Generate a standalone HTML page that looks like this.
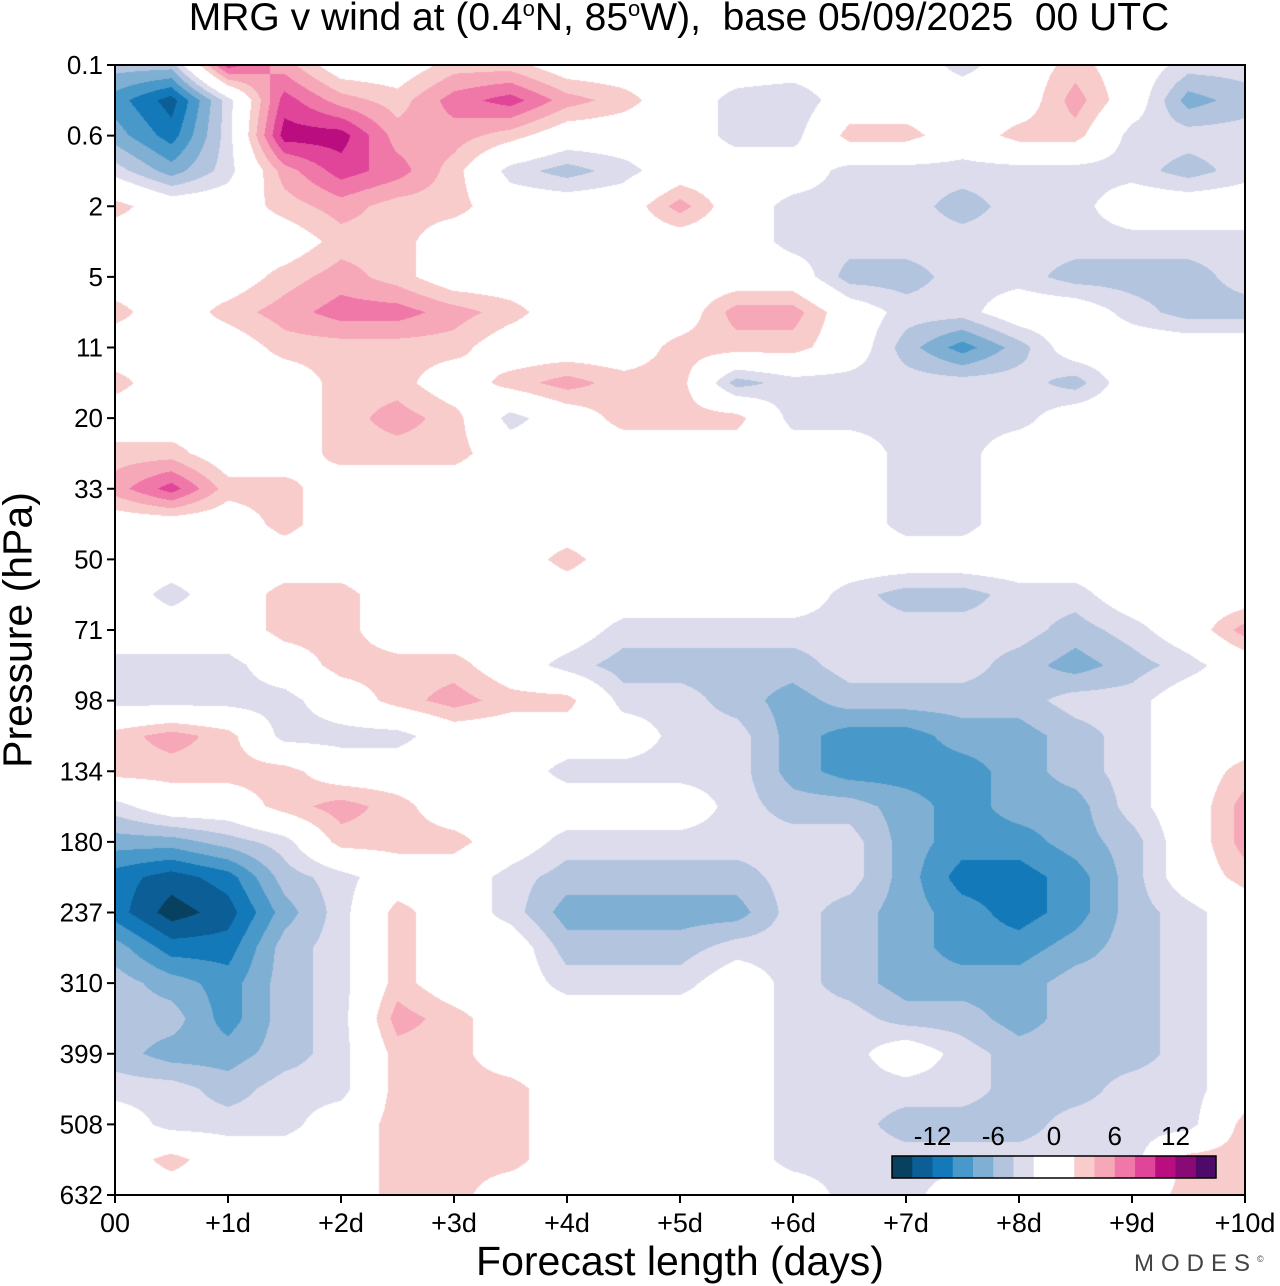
<!DOCTYPE html>
<html><head><meta charset="utf-8">
<style>
html,body{margin:0;padding:0;background:#fff;}
body{width:1280px;height:1286px;position:relative;overflow:hidden;font-family:"Liberation Sans",sans-serif;}
.t{position:absolute;white-space:nowrap;color:#000;}
</style></head>
<body>
<div class="t" style="left:679px;transform:translateX(-50%);top:-4px;font-size:39px;">MRG v wind at (0.4<sup style="font-size:22px">o</sup>N, 85<sup style="font-size:22px">o</sup>W),&nbsp; base 05/09/2025&nbsp; 00 UTC</div>
<canvas id="cv" width="1130" height="1130" style="position:absolute;left:115px;top:65px;"></canvas>
<svg id="ax" width="1280" height="1286" style="position:absolute;left:0;top:0;"></svg>
<div class="t" style="left:18px;top:630px;font-size:41px;transform:translate(-50%,-50%) rotate(-90deg);">Pressure (hPa)</div>
<div class="t" style="left:680px;top:1238px;font-size:41px;transform:translateX(-50%);">Forecast length (days)</div>
<div class="t" style="left:1134px;top:1250px;font-size:24px;letter-spacing:7px;color:#444;">MODES<sup style="font-size:9px;letter-spacing:0">©</sup></div>
<script>
const days=[0,0.5,1,1.5,2,2.5,3,3.5,4,4.5,5,5.5,6,6.5,7,7.5,8,8.5,9,9.5,10];
const xTickLabels=["00","+1d","+2d","+3d","+4d","+5d","+6d","+7d","+8d","+9d","+10d"];
const yTickLabels=["0.1","0.6","2","5","11","20","33","50","71","98","134","180","237","310","399","508","632"];
const levels=[-16,-14,-12,-10,-8,-6,-4,-2,2,4,6,8,10,12,14,16];
const colors=["#08405f","#0b5f96","#1479b9","#4899c9","#80afd4","#b3c4df","#dcdcec","#ffffff","#f9cccc","#f7a8b8","#f078a8","#e0459a","#b90d80","#8a0a75","#4e0a69"];
const cbLabels=[-12,-6,0,6,12];
const vwind=[
[-5,-5,9,5,0,0,3,3,0,0,0,0,0,0,0,-3,0,3,0,-3,-3],
[-9,-13,-3,9,5,3,7,9,5,3,0,-3,-4,0,0,0,0,5,0,-7,-5],
[-7,-11,-3,11,11,5,5,3,0,0,0,-3,-3,3,3,0,3,3,-3,-3,-3],
[-3,-7,-3,5,9,7,3,-3,-5,-3,0,0,0,-3,-3,-3,-3,-3,-3,-5,-3],
[3,0,0,3,5,3,3,0,0,0,5,0,-3,-3,-3,-5,-3,-3,0,0,0],
[0,0,0,0,3,3,0,0,0,0,0,0,-3,-3,-3,-3,-3,-3,-3,-3,-3],
[0,0,0,3,5,3,0,0,0,0,0,0,0,-5,-5,-3,-3,-5,-5,-5,-3],
[3,0,3,5,7,7,5,3,0,0,0,5,5,0,-3,-3,0,0,-3,-5,-5],
[0,0,0,3,3,3,3,0,0,0,3,3,3,0,-5,-9,-5,0,0,0,0],
[3,0,0,0,3,3,0,3,5,3,3,-5,-3,-3,-3,-3,-3,-5,0,0,0],
[0,0,0,0,3,5,3,-3,0,3,3,3,-3,-3,-3,-3,-3,0,0,0,0],
[3,3,0,0,3,3,3,0,0,0,0,0,0,0,-3,-3,0,0,0,0,0],
[5,9,3,3,0,0,0,0,0,0,0,0,0,0,-3,-3,0,0,0,0,0],
[0,0,0,3,0,0,0,0,0,0,0,0,0,0,-3,-3,0,0,0,0,0],
[0,0,0,0,0,0,0,0,3,0,0,0,0,0,0,0,0,0,0,0,0],
[0,-3,0,3,3,0,0,0,0,0,0,0,0,-3,-5,-5,-3,-3,0,0,0],
[0,0,0,3,3,0,0,0,0,-3,-3,-3,-3,-3,-3,-3,-3,-5,-3,0,5],
[-3,-3,-3,0,3,3,3,0,-3,-5,-5,-5,-5,-3,-3,-3,-5,-7,-5,-3,0],
[-3,-3,-3,-3,0,3,5,3,3,-3,-3,-5,-7,-5,-5,-5,-5,-3,-3,0,0],
[3,5,3,-3,-3,-3,0,0,0,0,-3,-3,-7,-9,-9,-7,-7,-5,-3,0,0],
[3,3,3,3,0,0,0,0,-3,-3,-3,-3,-7,-9,-9,-9,-7,-5,-3,0,3],
[-3,0,0,3,5,3,0,0,0,0,0,-3,-5,-5,-7,-9,-7,-7,-3,0,5],
[-7,-7,-5,-3,3,3,3,0,-3,-3,-3,-3,-3,-3,-7,-9,-9,-7,-5,0,5],
[-11,-13,-11,-5,-3,0,0,-3,-5,-5,-5,-5,-3,-3,-7,-11,-11,-9,-5,0,3],
[-11,-15,-13,-7,-3,3,0,-3,-7,-7,-7,-7,-3,-5,-7,-9,-11,-9,-5,-3,0],
[-7,-11,-11,-5,-3,3,0,0,-5,-5,-5,-3,-3,-5,-7,-9,-9,-7,-5,-3,0],
[-5,-7,-9,-5,-3,3,0,0,-3,-3,-3,0,-3,-5,-7,-7,-7,-5,-5,-3,0],
[-5,-5,-9,-5,-3,5,3,0,0,0,0,0,-3,-3,-5,-5,-7,-5,-5,-3,0],
[-5,-7,-7,-5,-3,3,3,0,0,0,0,0,-3,-3,0,-3,-5,-5,-5,-3,0],
[-3,-3,-5,-3,-3,3,3,3,0,0,0,0,-3,-3,-3,-3,-5,-5,-3,-3,0],
[0,-3,-3,-3,0,3,3,3,0,0,0,0,-3,-3,-5,-5,-5,-3,-3,-3,3],
[0,3,0,0,0,3,3,3,0,0,0,0,-3,-3,-3,-3,-3,-3,-3,3,3],
[0,0,0,0,0,3,3,0,0,0,0,0,0,-3,-3,0,0,0,0,3,3]
];
const X0=115,X1=1245,Y0=65,Y1=1195;
const xs=d=>X0+(X1-X0)*d/10;
const ys=r=>Y0+(Y1-Y0)*r/(vwind.length-1);
function colorFor(v){for(let i=0;i<levels.length-1;i++){if(v<levels[i+1])return colors[i];}return colors[colors.length-1];}
function hex(c){return [parseInt(c.substr(1,2),16),parseInt(c.substr(3,2),16),parseInt(c.substr(5,2),16)];}
const cv=document.getElementById('cv'),ctx=cv.getContext('2d');
const W=cv.width,H=cv.height,img=ctx.createImageData(W,H);
const nr=vwind.length,nc=days.length;
for(let py=0;py<H;py++){
  const fr=(py+0.5)/H*(nr-1);let r=Math.min(Math.floor(fr),nr-2);const ty=fr-r;
  for(let px=0;px<W;px++){
    const fd=(px+0.5)/W*10;let c=0;while(c<nc-2&&days[c+1]<=fd)c++;
    const tx=(fd-days[c])/(days[c+1]-days[c]);
    const v=(vwind[r][c]*(1-tx)+vwind[r][c+1]*tx)*(1-ty)+(vwind[r+1][c]*(1-tx)+vwind[r+1][c+1]*tx)*ty;
    const rgb=hex(colorFor(v));const k=(py*W+px)*4;
    img.data[k]=rgb[0];img.data[k+1]=rgb[1];img.data[k+2]=rgb[2];img.data[k+3]=255;
  }
}
ctx.putImageData(img,0,0);
const NS='http://www.w3.org/2000/svg',svg=document.getElementById('ax');
function mk(tag,attrs,parent){const e=document.createElementNS(NS,tag);for(const k in attrs)e.setAttribute(k,attrs[k]);(parent||svg).appendChild(e);return e;}
const frame=mk('rect',{x:X0,y:Y0,width:X1-X0,height:Y1-Y0,fill:'none',stroke:'#000','stroke-width':2});


xTickLabels.forEach((lab,i)=>{
  const x=xs(i);
  const tk=mk('line',{x1:x,x2:x,y1:Y1,y2:Y1+8,stroke:'#000','stroke-width':2});
  
  
  const t=mk('text',{x:x,y:Y1+37,'text-anchor':'middle','font-size':27,'font-family':'Liberation Sans, sans-serif'});
  t.textContent=lab;
  
  
});
yTickLabels.forEach((lab,i)=>{
  const y=ys(i*2);
  const tk=mk('line',{x1:X0-8,x2:X0,y1:y,y2:y,stroke:'#000','stroke-width':2});
  
  
  const t=mk('text',{x:X0-12,y:y+9,'text-anchor':'end','font-size':26,'font-family':'Liberation Sans, sans-serif'});
  t.textContent=lab;
  
  
});
const CB0=892,CB1=1216,CBY=1156,CBH=22;
const g=mk('g',{});


const cbx=v=>CB0+(v-levels[0])/(levels[levels.length-1]-levels[0])*(CB1-CB0);
colors.forEach((c,i)=>{
  const x0=cbx(levels[i]),x1=cbx(levels[i+1]);
  const r=mk('rect',{x:x0,y:CBY,width:x1-x0+0.5,height:CBH,fill:c},g);
  
  
});
mk('rect',{x:CB0,y:CBY,width:CB1-CB0,height:CBH,fill:'none',stroke:'#000','stroke-width':1.5},g);
cbLabels.forEach(v=>{
  const t=mk('text',{x:cbx(v),y:CBY-11,'text-anchor':'middle','font-size':26,'font-family':'Liberation Sans, sans-serif'},g);
  t.textContent=v;
  
  
});
</script>
</body></html>
